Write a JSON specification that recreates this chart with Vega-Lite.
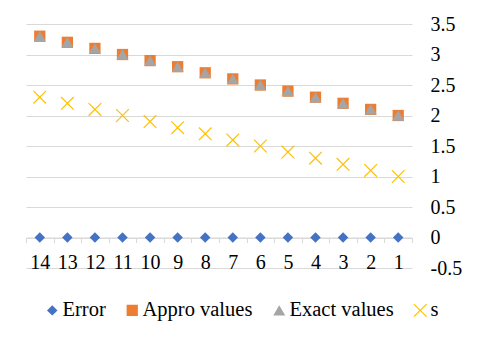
{
  "$schema": "https://vega.github.io/schema/vega-lite/v6.json",
  "width": 386,
  "height": 244,
  "autosize": {"type": "none"},
  "padding": {"left": 26, "top": 24, "right": 68, "bottom": 75},
  "background": "white",
  "config": {
    "view": {"stroke": null},
    "font": "Liberation Serif",
    "axis": {"labelFont": "Liberation Serif", "labelColor": "#000000", "labelFontSize": 20},
    "legend": {"labelFont": "Liberation Serif", "labelColor": "#000000", "labelFontSize": 20.5}
  },
  "data": {"values": [
    {"x": 14, "series": "Error", "value": 0}, {"x": 13, "series": "Error", "value": 0}, {"x": 12, "series": "Error", "value": 0}, {"x": 11, "series": "Error", "value": 0}, {"x": 10, "series": "Error", "value": 0}, {"x": 9, "series": "Error", "value": 0}, {"x": 8, "series": "Error", "value": 0}, {"x": 7, "series": "Error", "value": 0}, {"x": 6, "series": "Error", "value": 0}, {"x": 5, "series": "Error", "value": 0}, {"x": 4, "series": "Error", "value": 0}, {"x": 3, "series": "Error", "value": 0}, {"x": 2, "series": "Error", "value": 0}, {"x": 1, "series": "Error", "value": 0},
    {"x": 14, "series": "Appro values", "value": 3.3}, {"x": 13, "series": "Appro values", "value": 3.2}, {"x": 12, "series": "Appro values", "value": 3.1}, {"x": 11, "series": "Appro values", "value": 3.0}, {"x": 10, "series": "Appro values", "value": 2.9}, {"x": 9, "series": "Appro values", "value": 2.8}, {"x": 8, "series": "Appro values", "value": 2.7}, {"x": 7, "series": "Appro values", "value": 2.6}, {"x": 6, "series": "Appro values", "value": 2.5}, {"x": 5, "series": "Appro values", "value": 2.4}, {"x": 4, "series": "Appro values", "value": 2.3}, {"x": 3, "series": "Appro values", "value": 2.2}, {"x": 2, "series": "Appro values", "value": 2.1}, {"x": 1, "series": "Appro values", "value": 2.0},
    {"x": 14, "series": "Exact values", "value": 3.3}, {"x": 13, "series": "Exact values", "value": 3.2}, {"x": 12, "series": "Exact values", "value": 3.1}, {"x": 11, "series": "Exact values", "value": 3.0}, {"x": 10, "series": "Exact values", "value": 2.9}, {"x": 9, "series": "Exact values", "value": 2.8}, {"x": 8, "series": "Exact values", "value": 2.7}, {"x": 7, "series": "Exact values", "value": 2.6}, {"x": 6, "series": "Exact values", "value": 2.5}, {"x": 5, "series": "Exact values", "value": 2.4}, {"x": 4, "series": "Exact values", "value": 2.3}, {"x": 3, "series": "Exact values", "value": 2.2}, {"x": 2, "series": "Exact values", "value": 2.1}, {"x": 1, "series": "Exact values", "value": 2.0},
    {"x": 14, "series": "s", "value": 2.3}, {"x": 13, "series": "s", "value": 2.2}, {"x": 12, "series": "s", "value": 2.1}, {"x": 11, "series": "s", "value": 2.0}, {"x": 10, "series": "s", "value": 1.9}, {"x": 9, "series": "s", "value": 1.8}, {"x": 8, "series": "s", "value": 1.7}, {"x": 7, "series": "s", "value": 1.6}, {"x": 6, "series": "s", "value": 1.5}, {"x": 5, "series": "s", "value": 1.4}, {"x": 4, "series": "s", "value": 1.3}, {"x": 3, "series": "s", "value": 1.2}, {"x": 2, "series": "s", "value": 1.1}, {"x": 1, "series": "s", "value": 1.0}
  ]},
  "mark": {"type": "point", "opacity": 1, "strokeWidth": 1.2},
  "encoding": {
    "x": {
      "field": "x", "type": "ordinal", "sort": "descending",
      "scale": {"paddingInner": 0, "paddingOuter": 0},
      "axis": {
        "title": null, "labelAngle": 0, "offset": -30.5, "domainColor": "#d9d9d9",
        "tickColor": "#d9d9d9", "tickSize": 5, "tickBand": "extent", "labelPadding": 10, "grid": false,
        "labelFont": "Liberation Serif", "labelFontSize": 20
      }
    },
    "y": {
      "field": "value", "type": "quantitative",
      "scale": {"domain": [-0.5, 3.5], "nice": false, "zero": false},
      "axis": {
        "orient": "right", "title": null, "values": [-0.5, 0, 0.5, 1, 1.5, 2, 2.5, 3, 3.5],
        "labelExpr": "replace(format(datum.value, '.1~f'), '\u2212', '-')",
        "domain": false, "ticks": false, "labelPadding": 18, "gridColor": "#d9d9d9", "grid": true,
        "labelBaseline": "middle", "labelFont": "Liberation Serif", "labelFontSize": 20
      }
    },
    "shape": {
      "field": "series", "type": "nominal",
      "scale": {"domain": ["Error", "Appro values", "Exact values", "s"], "range": ["diamond", "square", "triangle-up", "M-1,-1L1,1M-1,1L1,-1"]},
      "legend": {
        "title": null, "orient": "none", "direction": "horizontal", "legendX": 16, "legendY": 276,
        "columnPadding": 16, "labelOffset": 0, "symbolStrokeWidth": 1.2,
        "labelFont": "Liberation Serif", "labelFontSize": 20.5
      }
    },
    "fill": {
      "field": "series", "type": "nominal",
      "scale": {"domain": ["Error", "Appro values", "Exact values", "s"], "range": ["#4472C4", "#ED7D31", "#A5A5A5", "transparent"]}
    },
    "stroke": {
      "field": "series", "type": "nominal",
      "scale": {"domain": ["Error", "Appro values", "Exact values", "s"], "range": ["transparent", "transparent", "transparent", "#FFC000"]}
    },
    "size": {
      "field": "series", "type": "nominal",
      "scale": {"domain": ["Error", "Appro values", "Exact values", "s"], "range": [110, 160, 115, 165]}
    }
  }
}
